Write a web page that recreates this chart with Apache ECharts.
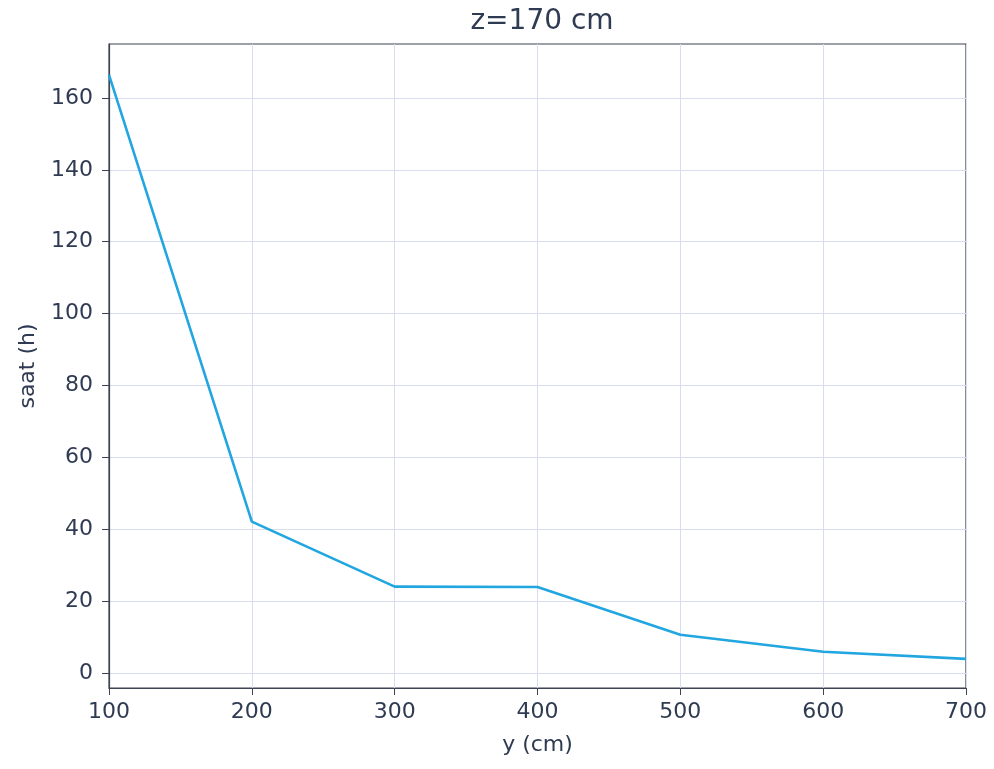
<!DOCTYPE html>
<html>
<head>
<meta charset="utf-8">
<script src="https://cdn.jsdelivr.net/npm/echarts@6/dist/echarts.min.js"></script>
<style>
  html, body { margin: 0; padding: 0; background: #fff; }
  #chart { width: 994px; height: 769px; }
</style>
</head>
<body>
<div id="chart"></div>
<script>
// y (cm) positions and measured hours
var yPositions = [100, 200, 300, 400, 500, 600, 700];
var hours = [166.4, 42.1, 24.0, 23.9, 10.6, 5.9, 3.9];
var hourTicks = [0, 20, 40, 60, 80, 100, 120, 140, 160];

var textColor = "#2f3b52";
var data = [];
for (var i = 0; i < yPositions.length; i++) {
  data.push([yPositions[i], hours[i]]);
}

var myChart = echarts.init(document.getElementById("chart"));
var option = {
  animation: false,
  title: {
    text: "z=170 cm",
    left: 537,
    top: 3,
    textAlign: "center",
    textStyle: {
      fontFamily: "DejaVu Sans",
      fontWeight: "normal",
      fontSize: 28,
      color: textColor
    }
  },
  grid: {
    left: 109,
    right: 28,
    top: 44,
    bottom: 81,
    show: true,
    borderColor: "#3d4350",
    borderWidth: 1.2
  },
  xAxis: {
    type: "value",
    min: 100,
    max: 700,
    interval: 100,
    name: "y (cm)",
    nameLocation: "middle",
    nameGap: 46,
    nameTextStyle: { fontFamily: "DejaVu Sans", fontSize: 22, color: textColor },
    axisLine: { show: true, onZero: false, lineStyle: { color: "#3d4350", width: 1.2 } },
    axisTick: { show: true, inside: false, length: 7, lineStyle: { color: "#3d4350" } },
    axisLabel: { margin: 13, fontFamily: "DejaVu Sans", fontSize: 22, color: textColor },
    splitLine: { show: true, lineStyle: { color: "#d9dcef", width: 1 } }
  },
  yAxis: {
    type: "value",
    min: -4.2,
    max: 175,
    name: "saat (h)",
    nameLocation: "middle",
    nameGap: 70,
    nameTextStyle: { fontFamily: "DejaVu Sans", fontSize: 22, color: textColor },
    axisLine: { show: true, onZero: false, lineStyle: { color: "#3d4350", width: 1.2 } },
    axisTick: { show: true, inside: false, length: 7, customValues: hourTicks, lineStyle: { color: "#3d4350" } },
    axisLabel: { margin: 16, customValues: hourTicks, fontFamily: "DejaVu Sans", fontSize: 22, color: textColor },
    splitLine: { show: true, lineStyle: { color: "#d9dcef", width: 1 } }
  },
  series: [
    {
      type: "line",
      data: data,
      showSymbol: false,
      lineStyle: { color: "#22a6e0", width: 2.6 }
    }
  ]
};
myChart.setOption(option, true);
</script>
</body>
</html>
